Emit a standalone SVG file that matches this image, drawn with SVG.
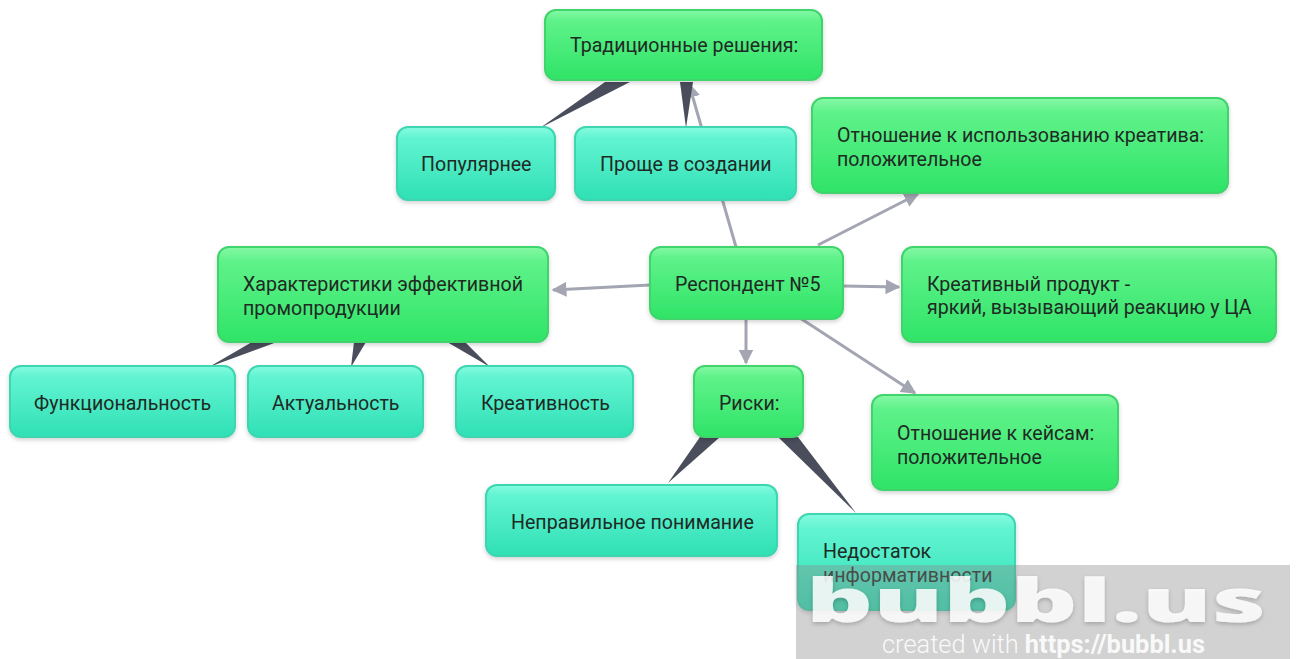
<svg xmlns="http://www.w3.org/2000/svg" width="1296" height="659" viewBox="0 0 1296 659">
  <defs>
    <linearGradient id="gGreen" x1="0" y1="0" x2="0" y2="1">
      <stop offset="0" stop-color="#86f9a6"/>
      <stop offset="0.15" stop-color="#5ff28a"/>
      <stop offset="1" stop-color="#2fe467"/>
    </linearGradient>
    <linearGradient id="gTeal" x1="0" y1="0" x2="0" y2="1">
      <stop offset="0" stop-color="#86fbe0"/>
      <stop offset="0.15" stop-color="#62f4d2"/>
      <stop offset="1" stop-color="#2fe0b4"/>
    </linearGradient>
    <filter id="shadow" x="-10%" y="-10%" width="120%" height="130%">
      <feDropShadow dx="0" dy="2" stdDeviation="2" flood-color="#000" flood-opacity="0.18"/>
    </filter>
    <filter id="glow" x="-5%" y="-20%" width="110%" height="140%">
      <feDropShadow dx="0" dy="2" stdDeviation="2" flood-color="#000" flood-opacity="0.25"/>
    </filter>
    <marker id="arrow" viewBox="0 0 10 10" refX="9" refY="5" markerWidth="5" markerHeight="5" orient="auto" markerUnits="strokeWidth">
      <path d="M0,0 L10,5 L0,10 z" fill="#a3a6b2"/>
    </marker>
    <style>
      .green { fill: url(#gGreen); stroke: #3fd46c; stroke-width: 2; filter: url(#shadow); }
      .teal { fill: url(#gTeal); stroke: #3cd6b0; stroke-width: 2; filter: url(#shadow); }
      .lbl { font-family: Roboto, "Liberation Sans", sans-serif; font-size: 19.6px; fill: #1f2a24; }
      .arr { stroke: #a3a6b2; stroke-width: 3; fill: none; marker-end: url(#arrow); }
      .wedge { fill: #4a4d5b; }
    </style>
  </defs>

  <rect width="1296" height="659" fill="#ffffff"/>

  <!-- connectors -->
  <g id="connectors">
    <line class="arr" x1="736" y1="247" x2="689" y2="84"/>
    <line class="arr" x1="818" y1="245" x2="918" y2="194"/>
    <line class="arr" x1="650" y1="285" x2="553" y2="290"/>
    <line class="arr" x1="843" y1="286" x2="899" y2="287"/>
    <line class="arr" x1="746" y1="319" x2="746" y2="363"/>
    <line class="arr" x1="800" y1="318" x2="915" y2="393"/>
    <polygon class="wedge" points="605,82 630,82 540,128"/>
    <polygon class="wedge" points="680,82 693,82 686,128"/>
    <polygon class="wedge" points="252,342 277,342 209,367"/>
    <polygon class="wedge" points="354,342 366,342 351,367"/>
    <polygon class="wedge" points="447,342 465,342 490,367"/>
    <polygon class="wedge" points="700,437 720,437 668,483"/>
    <polygon class="wedge" points="778,437 798,437 856,513"/>
  </g>

  <!-- nodes -->
  <g id="n-trad">
    <rect class="green" x="545" y="10" width="277" height="70" rx="11"/>
    <text class="lbl" x="570" y="52">Традиционные решения:</text>
  </g>
  <g id="n-popular">
    <rect class="teal" x="397" y="127" width="158" height="73" rx="11"/>
    <text class="lbl" x="421" y="171">Популярнее</text>
  </g>
  <g id="n-simple">
    <rect class="teal" x="575" y="127" width="221" height="73" rx="11"/>
    <text class="lbl" x="600" y="171">Проще в создании</text>
  </g>
  <g id="n-attitude-creative">
    <rect class="green" x="812" y="98" width="416" height="95" rx="11"/>
    <text class="lbl" x="837" y="142">Отношение к использованию креатива:</text>
    <text class="lbl" x="837" y="166">положительное</text>
  </g>
  <g id="n-respondent">
    <rect class="green" x="650" y="247" width="193" height="72" rx="11"/>
    <text class="lbl" x="675" y="291">Респондент №5</text>
  </g>
  <g id="n-characteristics">
    <rect class="green" x="218" y="247" width="330" height="95" rx="11"/>
    <text class="lbl" x="243" y="291">Характеристики эффективной</text>
    <text class="lbl" x="243" y="315">промопродукции</text>
  </g>
  <g id="n-product">
    <rect class="green" x="902" y="247" width="374" height="95" rx="11"/>
    <text class="lbl" x="927" y="291">Креативный продукт -</text>
    <text class="lbl" x="927" y="314">яркий, вызывающий реакцию у ЦА</text>
  </g>
  <g id="n-functional">
    <rect class="teal" x="10" y="366" width="225" height="71" rx="11"/>
    <text class="lbl" x="34" y="410">Функциональность</text>
  </g>
  <g id="n-actual">
    <rect class="teal" x="248" y="366" width="175" height="71" rx="11"/>
    <text class="lbl" x="272" y="410">Актуальность</text>
  </g>
  <g id="n-creativity">
    <rect class="teal" x="456" y="366" width="177" height="71" rx="11"/>
    <text class="lbl" x="481" y="410">Креативность</text>
  </g>
  <g id="n-risks">
    <rect class="green" x="694" y="366" width="109" height="71" rx="11"/>
    <text class="lbl" x="719" y="410">Риски:</text>
  </g>
  <g id="n-cases">
    <rect class="green" x="872" y="395" width="246" height="95" rx="11"/>
    <text class="lbl" x="897" y="440">Отношение к кейсам:</text>
    <text class="lbl" x="897" y="464">положительное</text>
  </g>
  <g id="n-misunderstanding">
    <rect class="teal" x="486" y="485" width="291" height="71" rx="11"/>
    <text class="lbl" x="511" y="529">Неправильное понимание</text>
  </g>
  <g id="n-lack-info">
    <rect class="teal" x="798" y="514" width="217" height="96" rx="11"/>
    <text class="lbl" x="823" y="558">Недостаток</text>
    <text class="lbl" x="823" y="582">информативности</text>
  </g>

  <!-- watermark band -->
  <g id="watermark">
    <rect x="796" y="565" width="494" height="94" fill="#8a8a8a" fill-opacity="0.38"/>
    <text x="806" y="622" textLength="460" lengthAdjust="spacingAndGlyphs" font-family="'Open Sans', 'Liberation Sans', sans-serif" font-weight="800" font-size="60" fill="#ffffff" fill-opacity="0.85" filter="url(#glow)">bubbl.us</text>
    <text x="882" y="653" textLength="323" lengthAdjust="spacingAndGlyphs" font-family="Roboto, 'Liberation Sans', sans-serif" font-size="25" fill="#ffffff" fill-opacity="0.9"><tspan font-weight="300">created with </tspan><tspan font-weight="700">https://bubbl.us</tspan></text>
  </g>
</svg>
